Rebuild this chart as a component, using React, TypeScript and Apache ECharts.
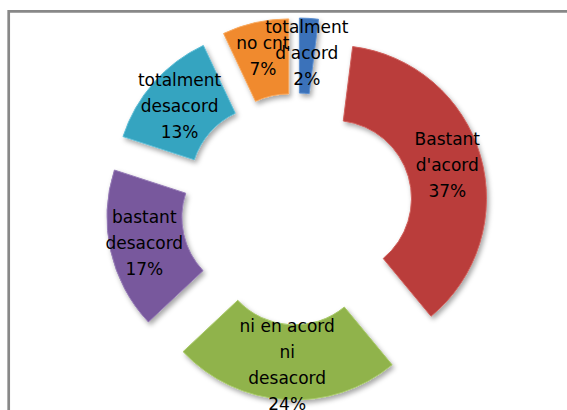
import React, { useEffect, useRef } from "react";
import * as echarts from "echarts";

const categories = [
  "totalment\nd'acord",
  "Bastant\nd'acord",
  "ni en acord\nni\ndesacord",
  "bastant\ndesacord",
  "totalment\ndesacord",
  "no cnt",
];
const values = [2, 37, 24, 17, 13, 7];
const colors = ["#3A72BA", "#BA3D3A", "#90B34B", "#78599D", "#34A4C0", "#F08A2F"];
const rims = ["#5E90D0", "#D0605C", "#A9CA6A", "#957AB6", "#5DBDD6", "#F8A85C"];

export default function App() {
  const ref = useRef<HTMLDivElement>(null);
  useEffect(() => {
    if (!ref.current) return;
    const chart = echarts.init(ref.current, undefined, { renderer: "svg" });
    const data = categories.map((name, i) => ({
      name,
      value: values[i],
      selected: true,
      itemStyle: {
        color: colors[i],
        borderColor: rims[i],
        borderWidth: 1,
      },
    }));
    chart.setOption({
      animation: false,
      backgroundColor: "#ffffff",
      graphic: [
        {
          type: "rect",
          shape: { x: 8.7, y: 11.3, width: 620, height: 460 },
          style: { fill: "none", stroke: "#888888", lineWidth: 2.7 },
          silent: true,
        },
      ],
      series: [
        {
          type: "pie",
          center: [297, 209],
          radius: [78, 153],
          startAngle: 90,
          clockwise: true,
          selectedMode: "multiple",
          selectedOffset: 38,
          avoidLabelOverlap: false,
          silent: true,
          labelLayout: { hideOverlap: false },
          itemStyle: {
            shadowBlur: 5,
            shadowColor: "rgba(0,0,0,0.35)",
            shadowOffsetX: 2,
            shadowOffsetY: 3,
          },
          label: {
            show: true,
            position: "inside",
            formatter: "{b}\n{c}%",
            color: "#000000",
            fontFamily: "DejaVu Sans",
            fontSize: 17,
            lineHeight: 26,
            align: "center",
          },
          labelLine: { show: false },
          emphasis: { disabled: true },
          data,
        },
      ],
    });
    return () => chart.dispose();
  }, []);
  return (
    <div
      ref={ref}
      style={{ position: "absolute", left: 0, top: 0, width: 567, height: 410 }}
    />
  );
}
